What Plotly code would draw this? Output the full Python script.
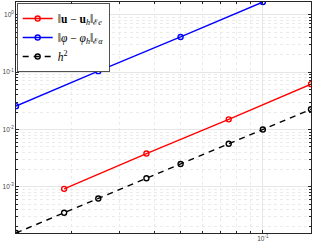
import numpy as np
import plotly.graph_objects as go

h_all = [0.0125, 0.01875, 0.025, 0.0375, 0.05, 0.075, 0.1, 0.15]
h2 = [v**2 for v in h_all]

h_u = [0.01875, 0.0375, 0.075, 0.15]
err_u = [9.2e-4, 3.8e-3, 0.0150, 0.0617]

h_phi = [0.0125, 0.025, 0.05, 0.1]
err_phi = [0.0255, 0.104, 0.41, 1.67]

y_ticks = [1e-3, 1e-2, 1e-1, 1e0]
y_ticktext = ["10<sup>-3</sup>", "10<sup>-2</sup>", "10<sup>-1</sup>", "10<sup>0</sup>"]
x_ticks = [1e-1]
x_ticktext = ["10<sup>-1</sup>"]

xmin, xmax = min(h_all), max(h_all)
ymin, ymax = min(h2), max(err_phi)

def minor_vals(lo, hi):
    out = []
    for e in range(int(np.floor(np.log10(lo))), int(np.ceil(np.log10(hi))) + 1):
        for d in range(2, 10):
            v = d * 10.0**e
            if lo <= v <= hi:
                out.append(v)
    return out

fig = go.Figure()
mk = dict(symbol="circle-open", size=5, line=dict(width=1.4))
fig.add_trace(go.Scatter(x=h_u, y=err_u, mode="lines+markers",
                         name="‖<b>u</b> − <b>u</b><sub><i>h</i></sub>‖<sub>ℰ<i>e</i></sub>",
                         line=dict(color="red", width=1.4), marker=dict(color="red", **mk)))
fig.add_trace(go.Scatter(x=h_phi, y=err_phi, mode="lines+markers",
                         name="‖<i>φ</i> − <i>φ</i><sub><i>h</i></sub>‖<sub>ℰ<i>α</i></sub>",
                         line=dict(color="blue", width=1.4), marker=dict(color="blue", **mk)))
fig.add_trace(go.Scatter(x=h_all, y=h2, mode="lines+markers",
                         name="<i>h</i><sup>2</sup>",
                         line=dict(color="black", width=1.4, dash="6px,5px"),
                         marker=dict(color="black", **mk)))

axis_common = dict(type="log", showline=True, linecolor="#262626", linewidth=0.8,
                   mirror="allticks", ticks="inside", ticklen=3, tickcolor="#262626",
                   showgrid=True, gridcolor="#e6e6e6", gridwidth=1, zeroline=False,
                   automargin=False,
                   tickfont=dict(size=6.5, color="#444", family="Liberation Sans"))

minor_common = dict(ticks="inside", ticklen=2, tickcolor="#262626", showgrid=True,
                    gridcolor="#ebebeb", griddash="dot", gridwidth=0.8)

fig.update_xaxes(range=[np.log10(xmin), np.log10(xmax)], tickvals=x_ticks, ticktext=x_ticktext,
                 ticklabelstandoff=-1,
                 minor=dict(tickvals=minor_vals(xmin, xmax), **minor_common),
                 **axis_common)
fig.update_yaxes(range=[np.log10(ymin), np.log10(ymax)], tickvals=y_ticks, ticktext=y_ticktext,
                 minor=dict(tickvals=minor_vals(ymin, ymax), **minor_common),
                 **axis_common)

fig.update_layout(width=312, height=246, margin=dict(l=16, r=1, t=2, b=13),
                  plot_bgcolor="white", paper_bgcolor="white",
                  showlegend=True,
                  legend=dict(x=0.003, y=0.995, xanchor="left", yanchor="top",
                              bgcolor="white", bordercolor="#262626", borderwidth=0.8,
                              font=dict(family="Liberation Serif", size=11.5, color="black"),
                              itemwidth=30, tracegroupgap=0))

fig.write_html("out.html", config={"displayModeBar": False},
               post_script="document.body.style.margin='0';")
